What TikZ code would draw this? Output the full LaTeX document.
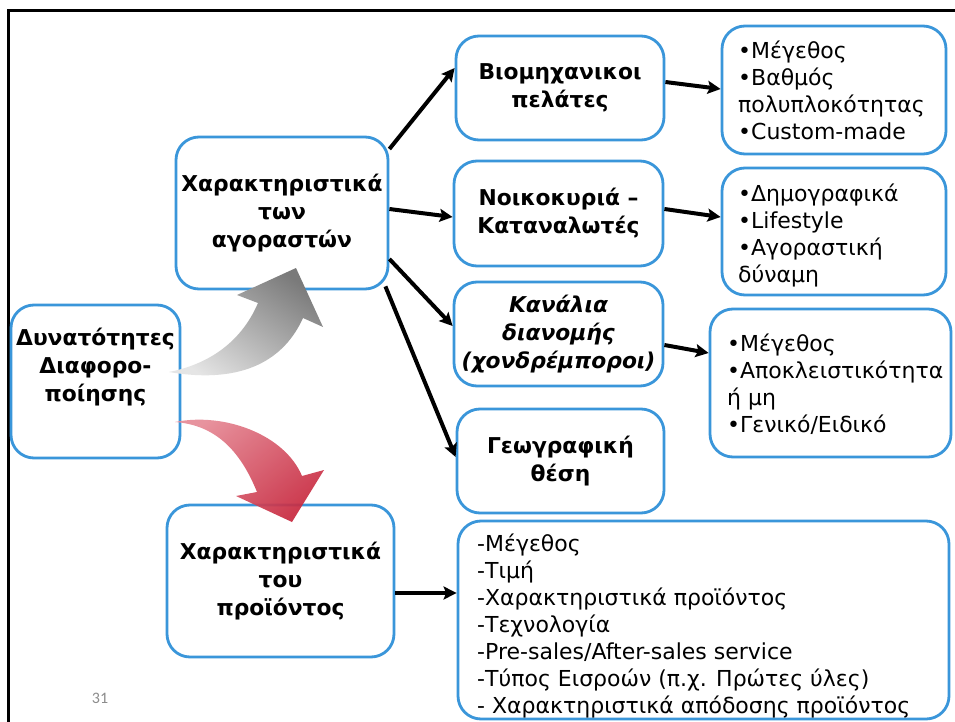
\documentclass[tikz,border=0pt]{standalone}
\usepackage{fontspec}
\setmainfont{DejaVu Sans}
\newfontfamily\numfont{Carlito}
\usetikzlibrary{arrows.meta}
\definecolor{boxblue}{RGB}{58,150,218}
\definecolor{pinkA}{RGB}{230,138,150}
\definecolor{redB}{RGB}{200,42,64}
\definecolor{numgray}{RGB}{140,140,140}
\tikzset{
  rbox/.style={draw=boxblue, line width=2.8pt, rounded corners=23pt, fill=white, inner sep=0pt, align=center},
  btxt/.style={font=\bfseries\fontsize{21.8}{28}\selectfont},
  itxt/.style={font=\bfseries\itshape\fontsize{21.8}{28}\selectfont},
  rtxt/.style={font=\fontsize{22}{27}\selectfont, align=left, anchor=west, inner sep=0pt},
  arr/.style={line width=4pt, -{Stealth[length=13pt,width=13pt,inset=2.5pt]}},
}
\begin{document}
\begin{tikzpicture}[x=1pt,y=-1pt]
\useasboundingbox (0,0) rectangle (955,722);
\fill[white] (0,0) rectangle (955,722);
% frame
\draw[line width=2.4pt] (8.3,730) -- (8.3,10.5) -- (960,10.5);

% boxes
\node[rbox, btxt, minimum width=212pt, minimum height=152pt] (buyer) at (282,213) {Χαρακτηριστικά\\των\\αγοραστών};
\node[rbox, btxt, minimum width=208pt, minimum height=104pt] (ind) at (560,88) {Βιομηχανικοι\\πελάτες};
\node[rbox, btxt, minimum width=209pt, minimum height=105pt] (house) at (558.5,213.5) {Νοικοκυριά –\\Καταναλωτές};
\node[rbox, itxt, minimum width=209pt, minimum height=104pt] (chan) at (558.5,334) {Κανάλια\\διανομής\\(χονδρέμποροι)};
\node[rbox, btxt, minimum width=207pt, minimum height=104pt] (geo) at (560.5,461) {Γεωγραφική\\θέση};
\node[rbox, minimum width=224pt, minimum height=128pt] (r1) at (834,90) {};
\node[rbox, minimum width=224pt, minimum height=127pt] (r2) at (834,231.5) {};
\node[rbox, minimum width=241pt, minimum height=148pt] (r3) at (830.5,383) {};
\node[rbox, minimum width=169pt, minimum height=153pt] (dyn) at (95.5,381.5) {};
\node[rbox, btxt, minimum width=227pt, minimum height=152pt] (prod) at (280.5,581) {Χαρακτηριστικά\\του\\προϊόντος};
\node[rbox, minimum width=491pt, minimum height=198pt] (r4) at (703.5,620) {};

% texts
\node[btxt, align=center, inner sep=0pt] (dynT) at (95.5,367) {Δυνατότητες\\Διαφορο-\\ποίησης};
\node[rtxt] (r1T) at (738,90) {•Μέγεθος\\•Βαθμός\\πολυπλοκότητας\\•Custom-made};
\node[rtxt] (r2T) at (738,235) {•Δημογραφικά\\•Lifestyle\\•Αγοραστική\\δύναμη};
\node[rtxt] (r3T) at (727,384.5) {•Μέγεθος\\•Αποκλειστικότητα\\ή μη\\•Γενικό/Ειδικό};
\node[rtxt] (r4T) at (477,626.5) {-Μέγεθος\\-Τιμή\\-Χαρακτηριστικά προϊόντος\\-Τεχνολογία\\-Pre-sales/After-sales service\\-Τύπος Εισροών (π.χ. Πρώτες ύλες)\\- Χαρακτηριστικά απόδοσης προϊόντος};
\node[font=\numfont\fontsize{16}{18}\selectfont, text=numgray, inner sep=0pt] (num) at (100,698) {31};

% connectors
\draw[arr] ([yshift=64pt]buyer.east) -- ([yshift=20pt]ind.west);
\draw[arr] ([yshift=4pt]buyer.east) -- ([yshift=-3.5pt]house.west);
\draw[arr] ([yshift=-46pt]buyer.east) -- ([yshift=8pt]chan.west);
\draw[arr] ([xshift=-4pt,yshift=4pt]buyer.south east) -- ([yshift=4pt]geo.west);
\draw[arr] ([yshift=6pt]ind.east) -- ([yshift=1pt]r1.west);
\draw[arr] ([yshift=4.5pt]house.east) -- ([yshift=14.5pt]r2.west);
\draw[arr] ([yshift=-11pt]chan.east) -- ([yshift=30pt]r3.west);
\draw[arr] ([yshift=-12pt]prod.east) -- ([yshift=27pt]r4.west);

% fat curved arrows
\shade[top color=black!52, bottom color=black!10, shading angle=-35]
  (169,372) .. controls (205,365) and (240,345) .. (258,303)
  -- (237,295) -- (296,268) -- (323,327) -- (303,318)
  .. controls (285,358) and (245,385) .. (169,372) -- cycle;
\shade[top color=pinkA, bottom color=redB, shading angle=40, fill opacity=0.92]
  (175,422) .. controls (225,412) and (285,435) .. (302,476)
  -- (324,470) -- (292,522) -- (236,496) -- (257,492)
  .. controls (240,450) and (215,425) .. (175,422) -- cycle;
\end{tikzpicture}
\end{document}
